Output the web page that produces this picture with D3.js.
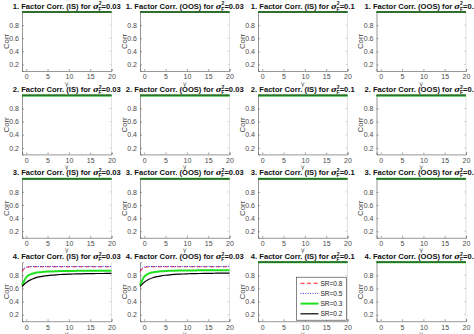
<!DOCTYPE html>
<html>
<head>
<meta charset="utf-8">
<script src="https://cdn.jsdelivr.net/npm/d3@7"></script>
<style>
html,body{margin:0;padding:0;background:#fff;}
svg{display:block;font-family:"Liberation Sans",Arial,Helvetica,sans-serif;}
</style>
</head>
<body>
<svg id="chart" width="474" height="334"></svg>
<script>
// ---- data ----
const gamma = [-1,0,1,2,3,4,5,6,7,8,9,10,11,12,13,14,15,16,17,18,19,20];
const xTicks = [0,5,10,15,20];
const yTicks = [0.2,0.4,0.6,0.8];
const seriesNames = ["SR=0.8","SR=0.5","SR=0.3","SR=0.2"];
const rowIds = ["1","2","3","4"];
const sampleTypes = ["IS","OOS","IS","OOS"];
const sigmaValues = ["0.03","0.03","0.1","0.1"];

const flatCorr = [1,1,1,1,1,1,1,1,1,1,1,1,1,1,1,1,1,1,1,1,1,1];

// row 4, IS, sigma_F^2 = 0.03
const r4IS_SR08 = [0.86,0.92,0.93,0.93,0.93,0.93,0.93,0.93,0.93,0.93,0.93,0.93,0.93,0.93,0.93,0.93,0.93,0.93,0.93,0.93,0.93,0.93];
const r4IS_SR05 = [0.88,0.925,0.935,0.935,0.935,0.935,0.935,0.935,0.935,0.935,0.935,0.935,0.935,0.935,0.935,0.935,0.935,0.935,0.935,0.935,0.935,0.935];
const r4IS_SR03 = [0.65,0.77,0.815,0.835,0.847,0.853,0.857,0.86,0.862,0.864,0.865,0.866,0.867,0.868,0.868,0.869,0.869,0.87,0.87,0.87,0.87,0.87];
const r4IS_SR02 = [0.63,0.69,0.73,0.757,0.775,0.787,0.796,0.803,0.808,0.812,0.815,0.818,0.82,0.822,0.823,0.825,0.826,0.827,0.828,0.828,0.829,0.83];

// row 4, OOS, sigma_F^2 = 0.03
const r4OOS_SR08 = [0.86,0.92,0.93,0.93,0.93,0.93,0.93,0.93,0.93,0.93,0.93,0.93,0.93,0.93,0.93,0.93,0.93,0.93,0.93,0.93,0.93,0.93];
const r4OOS_SR05 = [0.88,0.925,0.935,0.935,0.935,0.935,0.935,0.935,0.935,0.935,0.935,0.935,0.935,0.935,0.935,0.935,0.935,0.935,0.935,0.935,0.935,0.935];
const r4OOS_SR03 = [0.65,0.78,0.825,0.845,0.856,0.862,0.866,0.869,0.871,0.872,0.873,0.874,0.875,0.875,0.876,0.876,0.877,0.877,0.877,0.877,0.877,0.877];
const r4OOS_SR02 = [0.63,0.695,0.735,0.762,0.78,0.792,0.801,0.808,0.813,0.817,0.82,0.823,0.825,0.827,0.828,0.829,0.83,0.831,0.832,0.832,0.833,0.833];

const panelData = [
  [[flatCorr,flatCorr,flatCorr,flatCorr],[flatCorr,flatCorr,flatCorr,flatCorr],[flatCorr,flatCorr,flatCorr,flatCorr],[flatCorr,flatCorr,flatCorr,flatCorr]],
  [[flatCorr,flatCorr,flatCorr,flatCorr],[flatCorr,flatCorr,flatCorr,flatCorr],[flatCorr,flatCorr,flatCorr,flatCorr],[flatCorr,flatCorr,flatCorr,flatCorr]],
  [[flatCorr,flatCorr,flatCorr,flatCorr],[flatCorr,flatCorr,flatCorr,flatCorr],[flatCorr,flatCorr,flatCorr,flatCorr],[flatCorr,flatCorr,flatCorr,flatCorr]],
  [[r4IS_SR08,r4IS_SR05,r4IS_SR03,r4IS_SR02],[r4OOS_SR08,r4OOS_SR05,r4OOS_SR03,r4OOS_SR02],[flatCorr,flatCorr,flatCorr,flatCorr],[flatCorr,flatCorr,flatCorr,flatCorr]]
];

// ---- styles ----
const seriesStyle = [
  {color:"#ff2020", width:1.1, dash:"4,2.5"},
  {color:"#3030ff", width:1.0, dash:"1,1.4"},
  {color:"#1ee01e", width:2.0, dash:null},
  {color:"#000000", width:1.2, dash:null}
];

const svg = d3.select("#chart");
const colLeft = [22, 140, 258, 376.5];
const rowTop = [12, 95.4, 178.8, 262.2];
const W = 89.5, H = 59;

rowIds.forEach((rid, r) => {
  for (let c = 0; c < 4; c++) {
    const g = svg.append("g").attr("transform", `translate(${colLeft[c]},${rowTop[r]})`);
    const x = d3.scaleLinear().domain([-1, 20]).range([0, W]);
    const y = d3.scaleLinear().domain([0.1, 1]).range([H, 0]);
    const flat = panelData[r][c][0] === flatCorr;

    // right border (faint) with ticks
    g.append("line").attr("x1", W).attr("x2", W).attr("y1", 0).attr("y2", H)
      .attr("stroke", "#d0d0d0").attr("stroke-width", 0.6);

    // x axis
    const xa = g.append("g").attr("transform", `translate(0,${H})`)
      .call(d3.axisBottom(x).tickValues(xTicks).tickSize(-2).tickPadding(3.5).tickFormat(d3.format("d")));
    // y axis
    const ya = g.append("g")
      .call(d3.axisLeft(y).tickValues(yTicks).tickSize(-2).tickPadding(3).tickFormat(d3.format(".1f")));
    [xa, ya].forEach(a => {
      a.select(".domain").attr("stroke", "#6a6a6a").attr("stroke-width", 0.7);
      a.selectAll(".tick line").attr("stroke", "#6a6a6a").attr("stroke-width", 0.6);
      a.selectAll(".tick text").attr("fill", "#4a4a4a").attr("font-size", "7px").attr("font-family", "Liberation Sans, Arial, sans-serif");
    });
    // right ticks
    g.selectAll(".rt").data(yTicks).enter().append("line")
      .attr("x1", W - 2).attr("x2", W).attr("y1", d => y(d)).attr("y2", d => y(d))
      .attr("stroke", "#bbb").attr("stroke-width", 0.6);

    // lines
    const line = d3.line().x((d, i) => x(gamma[i])).y(d => y(d)).curve(d3.curveMonotoneX);
    panelData[r][c].forEach((vals, k) => {
      const s = seriesStyle[k];
      let col = s.color;
      if (flat && k === 3) col = "#2f6e2f";
      g.append("path").datum(vals).attr("d", line)
        .attr("fill", "none").attr("stroke", col)
        .attr("stroke-width", flat && k === 3 ? 1.8 : s.width)
        .attr("stroke-dasharray", s.dash);
    });

    // labels
    g.append("text").attr("x", W / 2).attr("y", H + 14.5).attr("text-anchor", "middle")
      .attr("font-size", "6.5px").attr("fill", "#555").attr("font-family", "DejaVu Sans, sans-serif").text("γ");
    g.append("text").attr("transform", `translate(-13.5,${H / 2}) rotate(-90)`)
      .attr("text-anchor", "middle").attr("font-size", "7.8px").attr("fill", "#444").text("Corr");

    // title
    const t = g.append("text").attr("x", W / 2).attr("y", -3.5).attr("text-anchor", "middle")
      .attr("font-size", "7.6px").attr("font-weight", "bold").attr("fill", "#111");
    t.append("tspan").text(`${rid}. Factor Corr. (${sampleTypes[c]}) for `);
    t.append("tspan").attr("font-style", "italic").attr("font-family", "DejaVu Serif, serif").attr("font-size", "7.8px").text("σ");
    t.append("tspan").attr("font-size", "5px").attr("dy", -3.2).text("2");
    t.append("tspan").attr("font-size", "5px").attr("dx", -2.9).attr("dy", 5.2).text("F");
    t.append("tspan").attr("dy", -2).text(`=${sigmaValues[c]}`);

    // legend on row 4 col 3
    if (r === 3 && c === 2) {
      const lg = g.append("g").attr("transform", `translate(${W - 51},${15})`);
      lg.append("rect").attr("width", 50).attr("height", 43).attr("fill", "#fff")
        .attr("stroke", "#333").attr("stroke-width", 0.6);
      seriesNames.forEach((nm, k) => {
        const s = seriesStyle[k];
        const yy = 6 + k * 10.2;
        lg.append("line").attr("x1", 4).attr("x2", 22).attr("y1", yy).attr("y2", yy)
          .attr("stroke", s.color).attr("stroke-width", s.width).attr("stroke-dasharray", s.dash);
        lg.append("text").attr("x", 24).attr("y", yy + 2.4).attr("font-size", "6.5px").attr("fill", "#222").text(nm);
      });
    }
  }
});
</script>
</body>
</html>
